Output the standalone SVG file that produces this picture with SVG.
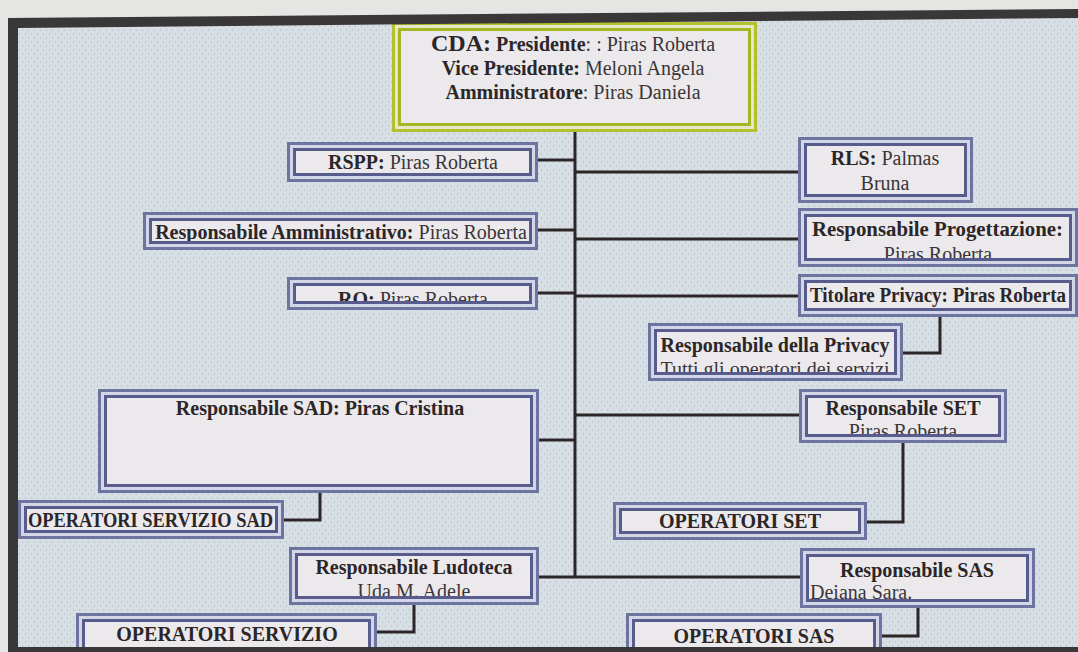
<svg xmlns="http://www.w3.org/2000/svg" width="1078" height="652" viewBox="0 0 1078 652">
<style>
.t{font-family:"Liberation Serif","Times New Roman",serif;font-size:20px;fill:#2b2628}
.b{font-weight:bold}
.r{font-weight:normal;fill:#3b3538}
.m{text-anchor:middle}
.fill{fill:#ebe9eb}
.gap{fill:none;stroke:#d3d6e6;stroke-width:9}
.ol{fill:none;stroke:#6e74a0;stroke-width:3}
.il{fill:none;stroke:#575c8c;stroke-width:3}
.ygap{fill:none;stroke:#e4e8c8;stroke-width:9}
.yl{fill:none;stroke:#b3c22c;stroke-width:3}
.yil{fill:none;stroke:#a6b522;stroke-width:3}
.c{fill:none;stroke:#2d2628;stroke-width:3}
</style>
<defs>
<pattern id="dots" width="6" height="8" patternUnits="userSpaceOnUse">
<rect width="6" height="8" fill="#d8dfe4"/>
<circle cx="1.5" cy="2" r="0.7" fill="#aebbcd"/>
<circle cx="4.5" cy="6" r="0.7" fill="#aebbcd"/>
</pattern>
</defs>
<rect width="1078" height="652" fill="#e5e5e3"/>
<polygon points="8,18 1078,9 1078,652 8,652" fill="url(#dots)"/>

<g id="connectors">
<path class="c" d="M575 132V577"/>
<path class="c" d="M538 160H575"/>
<path class="c" d="M538 230H575"/>
<path class="c" d="M538 293H575"/>
<path class="c" d="M539 440H575"/>
<path class="c" d="M539 577H800"/>
<path class="c" d="M575 172H798"/>
<path class="c" d="M575 239H798"/>
<path class="c" d="M575 296H798"/>
<path class="c" d="M575 415H799"/>
<path class="c" d="M940 317V353H903"/>
<path class="c" d="M320 493V520H284"/>
<path class="c" d="M414 605V632H377"/>
<path class="c" d="M903 443V522H867"/>
<path class="c" d="M918 608V636H882"/>
</g>

<g id="cda">
<rect class="fill" x="392" y="22" width="365" height="110"/>
<text class="t m" x="573" y="51"><tspan class="b" font-size="24">CDA:</tspan><tspan class="b"> Presidente</tspan><tspan class="r">: : Piras Roberta</tspan></text>
<text class="t m" x="573" y="75"><tspan class="b">Vice Presidente:</tspan><tspan class="r"> Meloni Angela</tspan></text>
<text class="t m" x="573" y="99"><tspan class="b">Amministratore</tspan><tspan class="r">: Piras Daniela</tspan></text>
<rect class="ygap" x="396.5" y="26.5" width="356" height="101"/>
<rect class="yl" x="393.5" y="23.5" width="362" height="107"/>
<rect class="yil" x="399.5" y="29.5" width="350" height="95"/>
</g>

<g id="rspp">
<rect class="fill" x="287" y="142" width="251" height="40"/>
<text class="t m" x="413" y="169"><tspan class="b">RSPP:</tspan><tspan class="r"> Piras Roberta</tspan></text>
<rect class="gap" x="291.5" y="146.5" width="242" height="31"/>
<rect class="ol" x="288.5" y="143.5" width="248" height="37"/>
<rect class="il" x="294.5" y="149.5" width="236" height="25"/>
</g>

<g id="resp-amm">
<rect class="fill" x="143" y="212" width="395" height="38"/>
<text class="t m" x="341" y="239"><tspan class="b">Responsabile Amministrativo:</tspan><tspan class="r"> Piras Roberta</tspan></text>
<rect class="gap" x="147.5" y="216.5" width="386" height="29"/>
<rect class="ol" x="144.5" y="213.5" width="392" height="35"/>
<rect class="il" x="150.5" y="219.5" width="380" height="23"/>
</g>

<g id="ro">
<rect class="fill" x="287" y="277" width="251" height="33"/>
<text class="t m" x="413" y="306"><tspan class="b">RO:</tspan><tspan class="r"> Piras Roberta</tspan></text>
<rect class="gap" x="291.5" y="281.5" width="242" height="24"/>
<rect class="ol" x="288.5" y="278.5" width="248" height="30"/>
<rect class="il" x="294.5" y="284.5" width="236" height="18"/>
</g>

<g id="rls">
<rect class="fill" x="798" y="137" width="175" height="66"/>
<text class="t m" x="885" y="165"><tspan class="b">RLS:</tspan><tspan class="r"> Palmas</tspan></text>
<text class="t m r" x="885" y="190">Bruna</text>
<rect class="gap" x="802.5" y="141.5" width="166" height="57"/>
<rect class="ol" x="799.5" y="138.5" width="172" height="63"/>
<rect class="il" x="805.5" y="144.5" width="160" height="51"/>
</g>

<g id="resp-prog">
<rect class="fill" x="798" y="208" width="280" height="59"/>
<text class="t b" x="812" y="236" textLength="251" lengthAdjust="spacingAndGlyphs">Responsabile Progettazione:</text>
<text class="t m r" x="938" y="261">Piras Roberta</text>
<rect class="gap" x="802.5" y="212.5" width="271" height="50"/>
<rect class="ol" x="799.5" y="209.5" width="277" height="56"/>
<rect class="il" x="805.5" y="215.5" width="265" height="44"/>
</g>

<g id="titolare-privacy">
<rect class="fill" x="798" y="274" width="280" height="43"/>
<text class="t b" x="810" y="302" textLength="256" lengthAdjust="spacingAndGlyphs">Titolare Privacy: Piras Roberta</text>
<rect class="gap" x="802.5" y="278.5" width="271" height="34"/>
<rect class="ol" x="799.5" y="275.5" width="277" height="40"/>
<rect class="il" x="805.5" y="281.5" width="265" height="28"/>
</g>

<g id="resp-privacy">
<rect class="fill" x="648" y="323" width="255" height="58"/>
<text class="t m b" x="775" y="352">Responsabile della Privacy</text>
<text class="t m r" x="775" y="376">Tutti gli operatori dei servizi</text>
<rect class="gap" x="652.5" y="327.5" width="246" height="49"/>
<rect class="ol" x="649.5" y="324.5" width="252" height="55"/>
<rect class="il" x="655.5" y="330.5" width="240" height="43"/>
</g>

<g id="resp-sad">
<rect class="fill" x="98" y="389" width="441" height="104"/>
<text class="t m b" x="320" y="415">Responsabile SAD: Piras Cristina</text>
<rect class="gap" x="102.5" y="393.5" width="432" height="95"/>
<rect class="ol" x="99.5" y="390.5" width="438" height="101"/>
<rect class="il" x="105.5" y="396.5" width="426" height="89"/>
</g>

<g id="operatori-sad">
<rect class="fill" x="18" y="500" width="266" height="39"/>
<text class="t b" x="28" y="527" font-size="19" textLength="245" lengthAdjust="spacingAndGlyphs">OPERATORI SERVIZIO SAD</text>
<rect class="gap" x="22.5" y="504.5" width="257" height="30"/>
<rect class="ol" x="19.5" y="501.5" width="263" height="36"/>
<rect class="il" x="25.5" y="507.5" width="251" height="24"/>
</g>

<g id="resp-ludoteca">
<rect class="fill" x="289" y="547" width="250" height="58"/>
<text class="t m b" x="414" y="574">Responsabile Ludoteca</text>
<text class="t m r" x="414" y="598">Uda M. Adele</text>
<rect class="gap" x="293.5" y="551.5" width="241" height="49"/>
<rect class="ol" x="290.5" y="548.5" width="247" height="55"/>
<rect class="il" x="296.5" y="554.5" width="235" height="43"/>
</g>

<g id="operatori-servizio">
<rect class="fill" x="76" y="613" width="301" height="44"/>
<text class="t m b" x="227" y="641">OPERATORI SERVIZIO</text>
<rect class="gap" x="80.5" y="617.5" width="292" height="35"/>
<rect class="ol" x="77.5" y="614.5" width="298" height="41"/>
<rect class="il" x="83.5" y="620.5" width="286" height="29"/>
</g>

<g id="resp-set">
<rect class="fill" x="799" y="389" width="208" height="54"/>
<text class="t m b" x="903" y="415">Responsabile SET</text>
<text class="t m r" x="903" y="438">Piras Roberta</text>
<rect class="gap" x="803.5" y="393.5" width="199" height="45"/>
<rect class="ol" x="800.5" y="390.5" width="205" height="51"/>
<rect class="il" x="806.5" y="396.5" width="193" height="39"/>
</g>

<g id="operatori-set">
<rect class="fill" x="613" y="502" width="254" height="38"/>
<text class="t m b" x="740" y="528">OPERATORI SET</text>
<rect class="gap" x="617.5" y="506.5" width="245" height="29"/>
<rect class="ol" x="614.5" y="503.5" width="251" height="35"/>
<rect class="il" x="620.5" y="509.5" width="239" height="23"/>
</g>

<g id="resp-sas">
<rect class="fill" x="800" y="548" width="235" height="60"/>
<text class="t m b" x="917" y="577">Responsabile SAS</text>
<text class="t r" x="810" y="599">Deiana Sara.</text>
<rect class="gap" x="804.5" y="552.5" width="226" height="51"/>
<rect class="ol" x="801.5" y="549.5" width="232" height="57"/>
<rect class="il" x="807.5" y="555.5" width="220" height="45"/>
</g>

<g id="operatori-sas">
<rect class="fill" x="626" y="613" width="256" height="44"/>
<text class="t m b" x="754" y="643">OPERATORI SAS</text>
<rect class="gap" x="630.5" y="617.5" width="247" height="35"/>
<rect class="ol" x="627.5" y="614.5" width="253" height="41"/>
<rect class="il" x="633.5" y="620.5" width="241" height="29"/>
</g>

<g id="frame" fill="#3a3738">
<polygon points="8,18 1078,9 1078,18 18,28"/>
<rect x="8" y="18" width="10" height="634"/>
<rect x="8" y="647" width="1070" height="5"/>
</g>
</svg>
